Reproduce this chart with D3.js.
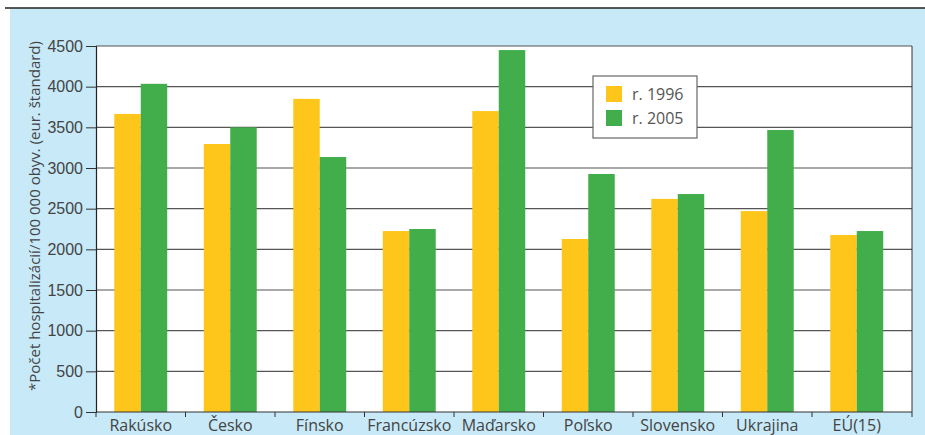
<!DOCTYPE html>
<html>
<head>
<meta charset="utf-8">
<script src="https://cdn.jsdelivr.net/npm/d3@7"></script>
<style>
  body { margin: 0; background: #fff; }
  svg { display: block; font-family: "Open Sans", "Noto Sans", sans-serif; }
</style>
</head>
<body>
<div id="chart"></div>
<script>
// data
var countries = ["Rakúsko", "Česko", "Fínsko", "Francúzsko", "Maďarsko", "Poľsko", "Slovensko", "Ukrajina", "EÚ(15)"];
var years = ["r. 1996", "r. 2005"];
var values1996 = [3665, 3295, 3850, 2225, 3700, 2127, 2620, 2470, 2176];
var values2005 = [4035, 3500, 3135, 2250, 4450, 2926, 2680, 3467, 2225];
var yTicks = [0, 500, 1000, 1500, 2000, 2500, 3000, 3500, 4000, 4500];
var colors = ["#fec61b", "#42ae4b"];

var w = 925, h = 435;
// plot box (note: "top" is reserved on window, so use other names)
var plotL = 96, plotR = 912, plotT = 46, plotB = 412;

var svg = d3.select("#chart").append("svg")
    .attr("width", w)
    .attr("height", h);

// light blue panel with dark rule on top
svg.append("rect")
    .attr("x", 10).attr("y", 8)
    .attr("width", w - 10).attr("height", h - 8)
    .attr("fill", "#c7e9f8");
svg.append("line")
    .attr("x1", 5).attr("x2", w)
    .attr("y1", 8).attr("y2", 8)
    .attr("stroke", "#222").attr("stroke-width", 1.5);

// plot area
svg.append("rect")
    .attr("x", plotL).attr("y", plotT)
    .attr("width", plotR - plotL).attr("height", plotB - plotT)
    .attr("fill", "#fff");

var x0 = d3.scaleBand()
    .domain(countries)
    .range([plotL, 901.5])
    .padding(0);

var x1 = d3.scaleBand()
    .domain(years)
    .range([0, x0.bandwidth()])
    .paddingInner(0)
    .paddingOuter(0.69);

var y = d3.scaleLinear()
    .domain([0, 4500])
    .range([plotB, plotT]);

// grid lines
svg.append("g")
  .selectAll("line")
  .data(yTicks.slice(1))
  .join("line")
    .attr("x1", plotL).attr("x2", plotR)
    .attr("y1", d => y(d)).attr("y2", d => y(d))
    .attr("stroke", "#555")
    .attr("stroke-width", 1.2);

// right border
svg.append("line")
    .attr("x1", plotR).attr("x2", plotR)
    .attr("y1", plotT).attr("y2", plotB)
    .attr("stroke", "#333");

// bars
var series = [values1996, values2005];
var groups = svg.append("g")
  .selectAll("g")
  .data(countries)
  .join("g")
    .attr("transform", d => "translate(" + x0(d) + ",0)");

groups.selectAll("rect")
  .data((d, i) => years.map((yr, k) => ({ year: yr, value: series[k][i], k: k })))
  .join("rect")
    .attr("x", d => x1(d.year))
    .attr("width", x1.bandwidth())
    .attr("y", d => y(d.value))
    .attr("height", d => y(0) - y(d.value))
    .attr("fill", d => colors[d.k]);

// y axis
var yAxis = d3.axisLeft(y).tickValues(yTicks).tickSize(10).tickPadding(3).tickFormat(d3.format("d"));
var gy = svg.append("g")
    .attr("transform", "translate(" + plotL + ",0)")
    .call(yAxis);
gy.select(".domain").attr("stroke", "#222").attr("stroke-width", 1.2);
gy.selectAll(".tick line").attr("stroke", "#333");
gy.selectAll("text")
    .attr("fill", "#444")
    .style("font-size", "16px");

// x axis
var gx = svg.append("g")
    .attr("transform", "translate(0," + plotB + ")");
gx.append("line")
    .attr("x1", plotL).attr("x2", plotR)
    .attr("stroke", "#333").attr("stroke-width", 1.2);
var tickXs = countries.map(c => x0(c)).concat([plotR]);
gx.selectAll(".ctick")
  .data(tickXs)
  .join("line")
    .attr("class", "ctick")
    .attr("x1", d => d).attr("x2", d => d)
    .attr("y1", 0).attr("y2", 5)
    .attr("stroke", "#333");
gx.selectAll(".clabel")
  .data(countries)
  .join("text")
    .attr("class", "clabel")
    .attr("x", d => x0(d) + x0.bandwidth() / 2)
    .attr("y", 18.5)
    .attr("text-anchor", "middle")
    .attr("fill", "#444")
    .style("font-size", "16px")
    .text(d => d);

// y axis title
svg.append("text")
    .attr("transform", "translate(40,216) rotate(-90)")
    .attr("text-anchor", "middle")
    .attr("fill", "#444")
    .style("font-size", "15px")
    .text("*Počet hospitalizácií/100 000 obyv. (eur. štandard)");

// legend
var lg = svg.append("g").attr("transform", "translate(593,76)");
lg.append("rect")
    .attr("width", 104).attr("height", 62)
    .attr("fill", "#fff")
    .attr("stroke", "#666").attr("stroke-width", 1.2);
years.forEach(function (yr, k) {
  lg.append("rect")
      .attr("x", 13).attr("y", 10 + k * 24)
      .attr("width", 16).attr("height", 16)
      .attr("fill", colors[k]);
  lg.append("text")
      .attr("x", 39).attr("y", 24 + k * 24)
      .attr("fill", "#555")
      .style("font-size", "16px")
      .text(yr);
});
</script>
</body>
</html>
